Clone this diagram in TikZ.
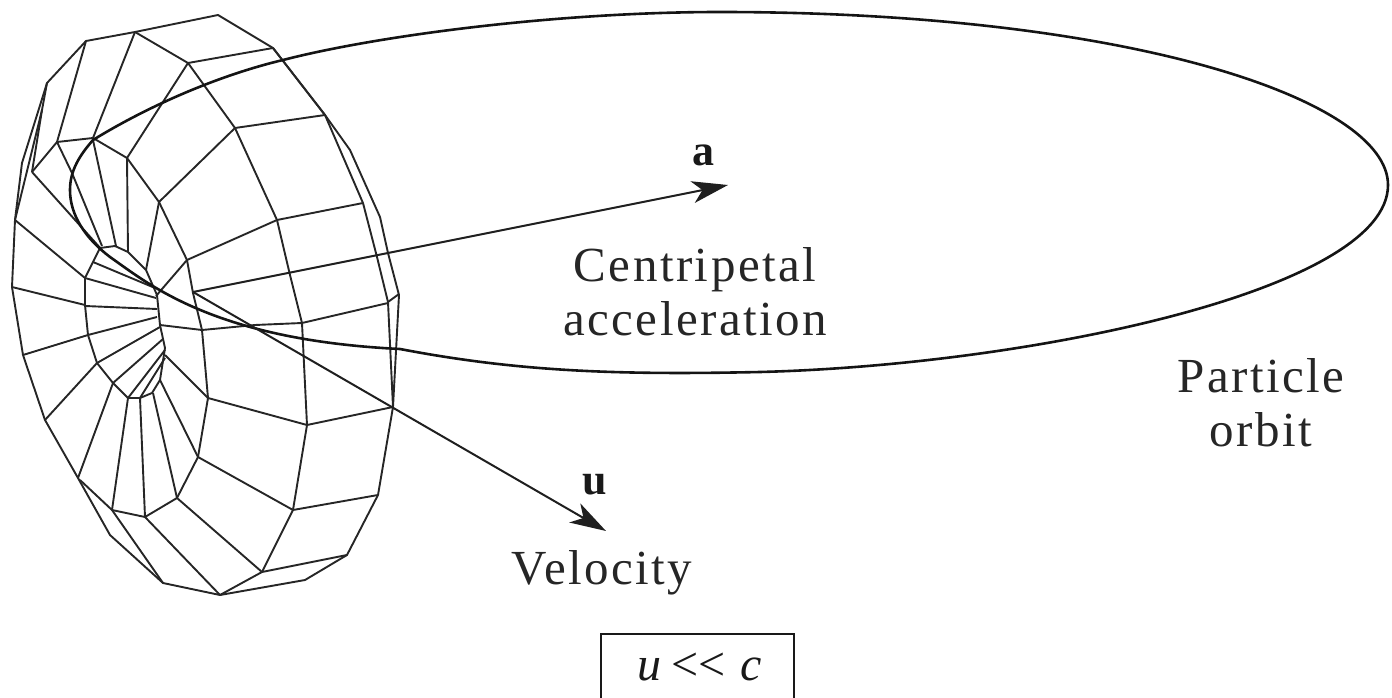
\documentclass[tikz,border=0pt]{standalone}
\usepackage{fontspec}
\setmainfont{Liberation Serif}
\newfontfamily\labelfont[LetterSpace=5]{Liberation Serif}
\usetikzlibrary{arrows.meta}
\tikzset{
  mesh/.style={draw=black!85,line width=1.9pt,line join=round},
  orbit/.style={draw=black!92,line width=2.6pt},
  vec/.style={draw=black!88,line width=2pt,-{Stealth[length=36pt,width=22pt,inset=10pt]}},
  lab/.style={font=\labelfont\fontsize{49}{54}\selectfont,align=center,inner sep=0pt,text=black!85},
  bold/.style={font=\fontsize{44}{50}\selectfont\bfseries,inner sep=0pt,text=black!90,anchor=base},
}
\begin{document}
\begin{tikzpicture}[x=1pt,y=-1pt]
\useasboundingbox (0,0) rectangle (1392,698);
% outer silhouette
\draw[mesh] (218,15)--(135,32)--(86,41)--(47,83)--(22,163)--(15,220)--(12,287)--(23,355)--(45,420)--(78,478)--(110,535)--(163,583)--(220,595)--(305,580)--(347,555)--(378,495)--(393,407)--(399,295)--(388,253)--(380,217)--(350,150)--(325,115)--(273,48)--cycle;
\draw[mesh] (47,83)--(42,110)--(32,172);
\draw[mesh] (42,110)--(15,220);
% front rim
\draw[mesh] (273,48)--(325,115)--(363,203)--(377,257)--(388,302)--(393,407);
\draw[mesh] (388,302)--(399,294);
% middle ring
\draw[mesh] (135,32)--(188,63)--(235,128)--(277,220)--(290,275)--(302,323)--(307,425)--(293,510)--(262,572)--(220,595);
\draw[mesh] (188,63)--(273,48) (235,128)--(325,115) (277,220)--(363,203) (302,323)--(388,303) (307,425)--(393,407) (293,510)--(378,495) (262,572)--(347,555);
% inner ring
\draw[mesh] (57,142)--(93,138)--(127,158)--(159,202)--(187,260)--(193,293)--(202,330)--(208,398)--(198,457)--(177,498)--(145,517)--(112,510)--(80,480);
\draw[mesh] (188,63)--(127,158) (235,128)--(159,202) (277,220)--(187,260);
\draw[mesh] (208,398)--(165,355) (198,457)--(160,380) (177,498)--(153,393) (145,517)--(140,398) (112,510)--(128,398) (78,478)--(113,383) (45,420)--(97,363) (23,355)--(88,335) (12,287)--(85,305) (15,220)--(85,278);
\draw[mesh] (145,517)--(220,595) (177,498)--(262,572) (198,457)--(293,510) (208,398)--(307,425);
\draw[mesh] (112,510)--(163,583);
\draw[mesh] (86,41)--(57,142) (135,32)--(93,138) (57,142)--(32,172) (57,142)--(72,173)--(102,246) (93,140)--(116,246) (127,158)--(128,252) (159,202)--(146,270) (187,260)--(156,296) (32,172)--(102,250);
% hole
\draw[mesh] (85,278)--(100,248)--(115,246)--(128,252)--(146,270)--(157,295)--(160,325)--(165,348)--(160,380)--(152,393)--(140,398)--(128,398)--(113,383)--(97,363)--(88,335)--(85,305)--(85,278);
\draw[mesh] (85,278)--(156,298) (93,262)--(155,288) (85,306)--(157,309) (88,335)--(157,317) (97,363)--(160,327) (113,383)--(163,339) (128,398)--(165,350) (140,398)--(165,358);
\draw[mesh] (160,325)--(202,330)--(255,325)--(302,323);
% orbit
\draw[orbit] (93,140) .. controls (80,155) and (70,170) .. (70,190)
  .. controls (70,215) and (85,238) .. (110,257)
  .. controls (150,285) and (215,340) .. (400,349)
  .. controls (520,372) and (620,375) .. (760,372)
  .. controls (1030,365) and (1388,290) .. (1388,185)
  .. controls (1388,100) and (1130,12) .. (720,12)
  .. controls (560,12) and (380,35) .. (283,60)
  .. controls (220,75) and (150,105) .. (93,140);
% vectors
\coordinate (o) at (193,292);
\coordinate (atip) at (728,185);
\coordinate (utip) at (606,531);
\draw[vec] (o)--(atip);
\draw[vec] (o)--(utip);
\node[bold] (alab) at (703,165) {a};
\node[bold] (ulab) at (595,494) {u};
\node[lab] (cent) at (695,292) {Centripetal\\acceleration};
\node[lab] (part) at (1261,403) {Particle\\orbit};
\node[lab] (velo) at (602,573) {Velocity};
\draw[draw=black!90,line width=2.2pt] (601,698)--(601,634)--(794,634)--(794,698);
\node[font=\fontsize{48}{50}\selectfont,inner sep=0pt,anchor=base,text=black!90] (box) at (700,680) {\textit{u}\hspace{10pt}{<}{<}\hspace{15pt}\textit{c}};
\end{tikzpicture}
\end{document}
